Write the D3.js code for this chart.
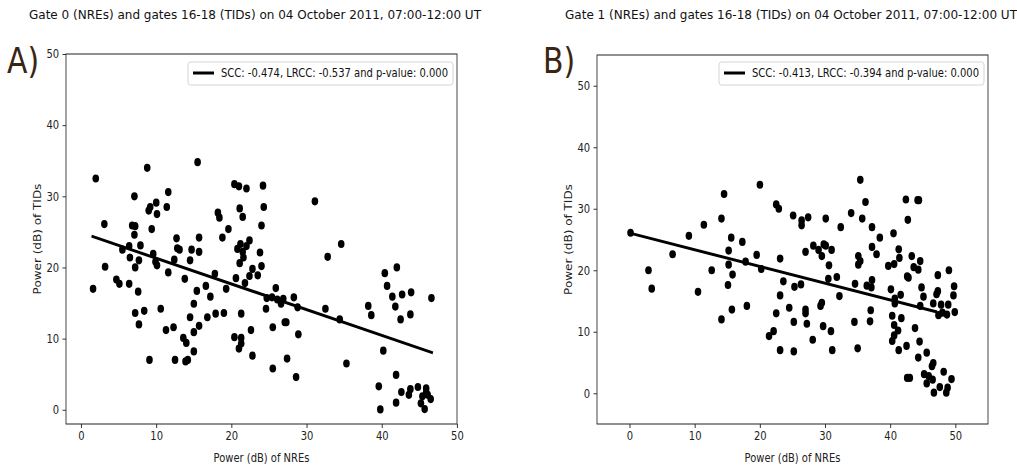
<!DOCTYPE html>
<html>
<head>
<meta charset="utf-8">
<script src="https://cdn.jsdelivr.net/npm/d3@7"></script>
<style>
  body { margin: 0; background: white; }
  svg { display: block; font-family: "DejaVu Sans", sans-serif; }
</style>
</head>
<body>
<svg id="chart" width="1017" height="465"></svg>
<script>
// ---- data ----
const nreA = [1.96, 8.8, 15.5, 7.1, 11.6, 20.4, 21.0, 22.0, 24.2, 10.0, 9.2, 9.0, 10.1, 11.4, 18.2, 18.4, 21.1, 21.5, 24.3,
  3.1, 6.8, 7.2, 7.1, 9.4, 19.6, 24.0, 18.8, 12.7, 15.7, 7.9, 6.4, 5.5, 12.8, 13.1, 14.7, 15.7, 9.6, 6.5, 7.7, 7.2, 9.9,
  10.1, 12.4, 14.5, 20.8, 21.2, 22.4, 22.0, 21.5, 21.6, 21.1, 23.8, 24.0, 22.8, 23.5, 22.4, 3.2, 4.7, 5.1, 6.4, 7.6, 1.6,
  11.6, 13.8, 17.8, 19.3, 20.6, 21.8, 16.6, 15.4, 17.2, 24.7, 24.6, 15.0, 7.2, 8.4, 10.6, 7.7, 14.5, 16.8, 17.9, 19.0,
  21.3, 11.3, 12.3, 15.7, 15.0, 13.6, 14.0, 15.0, 22.6, 20.4, 21.3, 21.3, 21.0, 22.8, 9.1, 12.5, 13.9, 14.2,
  31.1, 34.6, 32.8, 25.9, 25.4, 26.1, 26.9, 26.6, 28.3, 28.8, 32.5, 34.4, 25.5, 27.1, 27.3, 28.9, 27.4, 25.5, 28.6, 35.3,
  38.2, 38.6, 40.4, 42.0, 40.7, 41.4, 42.7, 43.9, 41.8, 42.5, 43.8, 46.6, 40.2, 41.9, 39.6, 39.8, 41.9, 42.6, 43.8, 43.6,
  44.8, 45.9, 45.9, 45.4, 46.5, 45.2, 45.7, 46.1];
const tidA = [32.5, 34.0, 34.8, 30.0, 30.6, 31.7, 31.4, 31.1, 31.5, 29.1, 28.5, 28.0, 27.5, 28.5, 27.7, 27.0, 28.3, 27.1, 28.5,
  26.1, 25.9, 25.8, 24.6, 25.4, 25.4, 25.9, 24.2, 24.1, 24.2, 23.1, 23.0, 22.5, 22.7, 22.5, 22.5, 22.2, 21.9, 21.4, 21.0, 20.0, 20.8,
  20.3, 21.1, 21.0, 22.6, 23.3, 23.8, 23.0, 22.2, 21.4, 20.6, 22.1, 20.2, 19.8, 18.9, 18.8, 20.1, 18.3, 17.7, 17.7, 16.6, 17.0,
  19.3, 18.4, 19.1, 17.0, 18.5, 17.8, 17.4, 16.7, 15.9, 15.7, 14.2, 14.9, 13.6, 13.9, 14.2, 12.0, 13.0, 13.0, 13.5, 13.6,
  13.5, 11.2, 11.6, 11.8, 10.9, 10.1, 9.4, 8.2, 11.2, 10.2, 10.1, 9.3, 8.6, 7.6, 7.0, 7.0, 6.8, 7.0,
  29.3, 23.3, 21.5, 17.1, 15.8, 15.5, 15.6, 14.9, 15.8, 14.4, 14.2, 12.7, 11.6, 12.3, 12.3, 10.6, 7.2, 5.8, 4.6, 6.5,
  14.6, 13.3, 19.2, 20.0, 17.4, 15.9, 16.2, 16.5, 14.5, 12.7, 13.4, 15.7, 8.3, 4.9, 3.3, 0.05, 1.0, 2.5, 2.9, 2.1,
  3.2, 3.0, 2.4, 1.9, 1.5, 0.9, 0.1, 2.1];

const nreB = [0.15, 2.9, 3.4, 6.6, 9.1, 11.4, 10.5, 12.6, 14.1, 14.5, 15.6, 15.2, 15.2, 15.8, 15.1, 17.3, 17.8, 19.5, 20.2, 20.0,
  15.7, 18.0, 14.1, 22.5, 22.9, 25.1, 26.4, 26.4, 27.4, 30.1, 32.4, 34.0, 35.4, 36.2, 35.7, 37.2, 38.4, 40.5, 42.4, 44.2,
  44.4, 42.7, 23.1, 27.0, 28.2, 29.0, 29.8, 30.1, 29.5, 31.0, 30.6, 23.6, 25.3, 26.3, 23.1, 30.5, 31.8, 35.1, 35.4, 35.1,
  37.2, 37.9, 41.3, 41.4, 40.6, 39.7, 43.3, 44.6, 43.6, 44.3, 42.6, 42.8, 34.6, 36.4, 37.2, 37.1, 40.1, 40.7, 41.6, 40.7,
  44.8, 45.1, 47.3, 49.0, 47.3, 47.1, 49.8, 49.7, 46.6, 47.8, 48.9, 49.9, 47.4, 48.7, 44.6, 32.2, 29.5, 29.3, 27.0, 27.0,
  24.5, 22.5, 25.2, 27.2, 29.7, 30.9, 22.1, 21.4, 28.1, 23.1, 25.2, 31.1, 35.0, 34.5, 37.0, 36.9, 40.3, 40.6, 41.7, 41.2,
  40.6, 40.3, 41.3, 42.5, 43.8, 44.5, 44.3, 45.6, 46.6, 46.4, 48.2, 49.4, 42.6, 43.0, 45.2, 45.9, 46.5, 45.6, 47.6, 48.8,
  46.7, 48.6, 48.0];
const tidB = [26.1, 20.0, 17.0, 22.6, 25.6, 27.4, 16.5, 20.0, 28.4, 32.4, 25.3, 23.2, 20.9, 19.3, 17.6, 24.6, 21.4, 22.5, 20.2, 33.9,
  13.6, 14.2, 12.0, 30.7, 30.0, 28.9, 28.1, 27.3, 28.6, 28.4, 27.0, 29.3, 34.7, 31.1, 28.4, 27.0, 25.3, 26.0, 31.5, 31.4,
  31.4, 28.2, 21.9, 23.0, 24.0, 23.3, 24.2, 24.0, 22.3, 23.3, 20.8, 18.2, 17.3, 17.7, 15.9, 18.6, 18.9, 22.3, 21.5, 20.9,
  23.8, 22.6, 23.4, 22.0, 21.0, 20.7, 22.3, 21.5, 20.5, 20.1, 19.0, 18.8, 17.8, 17.5, 18.4, 17.2, 16.9, 15.4, 16.0, 14.6,
  17.2, 15.7, 19.2, 20.0, 16.6, 16.1, 17.4, 15.9, 14.6, 14.4, 14.4, 13.2, 12.7, 12.8, 14.2, 15.8, 14.7, 14.2, 13.6, 13.0,
  13.9, 13.0, 11.6, 11.3, 10.9, 10.1, 10.1, 9.3, 8.7, 7.0, 6.8, 7.0, 7.3, 11.6, 13.5, 11.7, 12.6, 11.1, 12.2, 10.2,
  9.4, 8.5, 7.0, 7.7, 10.6, 8.4, 5.8, 6.6, 4.9, 4.4, 3.5, 2.3, 2.5, 2.5, 3.1, 2.8, 2.2, 1.6, 1.0, 0.9,
  0.1, 0.1, 13.1];

// regression line end points
const fitAx = [1.4, 46.8], fitAy = [24.4, 8.0];
const fitBx = [0.2, 47.2], fitBy = [26.0, 13.2];

const xTicks = [0, 10, 20, 30, 40, 50];
const yTicks = [0, 10, 20, 30, 40, 50];

const titles = [
  "Gate 0 (NREs) and gates 16-18 (TIDs) on 04 October 2011, 07:00-12:00 UT",
  "Gate 1 (NREs) and gates 16-18 (TIDs) on 04 October 2011, 07:00-12:00 UT"
];
const legends = [
  "SCC: -0.474, LRCC: -0.537 and p-value: 0.000",
  "SCC: -0.413, LRCC: -0.394 and p-value: 0.000"
];
const letters = ["A)", "B)"];

// the source image is squeezed horizontally; draw in a wider space and squeeze
const sx = 0.83;
const vx = v => v / sx;

const svg = d3.select("#chart");
const root = svg.append("g").attr("transform", `scale(${sx},1)`);

const panels = [
  {left: 66, right: 457, top: 54, bottom: 424, xd: [-2, 50], yd: [-2, 50], nre: nreA, tid: tidA,
   fx: fitAx, fy: fitAy, titleX: 255, letterX: 7, legendX: 188},
  {left: 597, right: 988, top: 55, bottom: 424, xd: [-5, 55], yd: [-5, 55], nre: nreB, tid: tidB,
   fx: fitBx, fy: fitBy, titleX: 791, letterX: 543, legendX: 719}
];

panels.forEach((p, i) => {
  const x = d3.scaleLinear().domain(p.xd).range([vx(p.left), vx(p.right)]);
  const y = d3.scaleLinear().domain(p.yd).range([p.bottom, p.top]);

  // title
  root.append("text")
    .attr("x", vx(p.titleX)).attr("y", 19)
    .attr("text-anchor", "middle")
    .attr("textLength", vx(452)).attr("lengthAdjust", "spacingAndGlyphs")
    .style("font-size", "13px").style("fill", "#111")
    .text(titles[i]);

  // panel letter
  root.append("text")
    .attr("x", vx(p.letterX)).attr("y", 73)
    .style("font-size", "36px").style("fill", "#3a2414")
    .text(letters[i]);

  // points
  const pts = p.nre.map((d, j) => ({x: d, y: p.tid[j]}));
  root.append("g").selectAll("ellipse")
    .data(pts)
    .join("ellipse")
    .attr("cx", d => x(d.x))
    .attr("cy", d => y(d.y))
    .attr("rx", vx(3.3))
    .attr("ry", 4.1)
    .attr("fill", "black");

  // fit line
  const fit = p.fx.map((d, j) => ({x: d, y: p.fy[j]}));
  root.append("path")
    .datum(fit)
    .attr("fill", "none")
    .attr("stroke", "black")
    .attr("stroke-width", 3)
    .attr("d", d3.line().x(d => x(d.x)).y(d => y(d.y)));

  // axes
  const gx = root.append("g")
    .attr("transform", `translate(0,${p.bottom})`)
    .call(d3.axisBottom(x).tickValues(xTicks).tickSize(4).tickPadding(3).tickSizeOuter(0));
  const gy = root.append("g")
    .attr("transform", `translate(${vx(p.left)},0)`)
    .call(d3.axisLeft(y).tickValues(yTicks).tickSize(vx(3.5)).tickPadding(4).tickSizeOuter(0));
  [gx, gy].forEach(g => {
    g.select(".domain").remove();
    g.selectAll("text").style("font-size", "12px").style("fill", "#222").attr("font-family", "DejaVu Sans");
    g.selectAll("line").attr("stroke", "#222");
  });

  // frame
  root.append("rect")
    .attr("x", vx(p.left)).attr("y", p.top)
    .attr("width", vx(p.right - p.left)).attr("height", p.bottom - p.top)
    .attr("fill", "none").attr("stroke", "#222").attr("stroke-width", 1);

  // axis labels
  root.append("text")
    .attr("x", vx((p.left + p.right) / 2)).attr("y", 462)
    .attr("text-anchor", "middle")
    .style("font-size", "12px").style("fill", "#222")
    .text("Power (dB) of NREs");
  root.append("text")
    .attr("transform", `translate(${vx(p.left - 25)},${(p.top + p.bottom) / 2}) rotate(-90)`)
    .attr("text-anchor", "middle")
    .style("font-size", "12px").style("fill", "#222")
    .text("Power (dB) of TIDs");

  // legend
  const lg = root.append("g").attr("transform", `translate(${vx(p.legendX)},62)`);
  lg.append("rect")
    .attr("width", vx(265)).attr("height", 23).attr("rx", 3)
    .attr("fill", "white").attr("stroke", "#d0d0d0");
  lg.append("line")
    .attr("x1", vx(5)).attr("x2", vx(26)).attr("y1", 11).attr("y2", 11)
    .attr("stroke", "black").attr("stroke-width", 3);
  lg.append("text")
    .attr("x", vx(33)).attr("y", 15.5)
    .attr("textLength", vx(227)).attr("lengthAdjust", "spacingAndGlyphs")
    .style("font-size", "12px").style("fill", "#111")
    .text(legends[i]);
});
</script>
</body>
</html>
